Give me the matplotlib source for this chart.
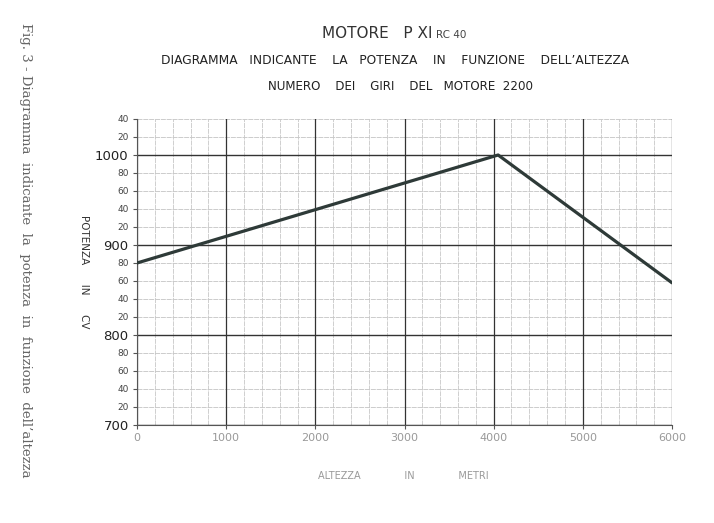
import numpy as np
import matplotlib
matplotlib.use('Agg')
from matplotlib import pyplot as plt
from matplotlib.ticker import MultipleLocator

# data
altezza = [0, 4050, 6000]
potenza = [880, 1000, 858]
xticks = [0, 1000, 2000, 3000, 4000, 5000, 6000]
yticks = list(range(700, 1041, 20))

W, H = 714, 523
fig = plt.figure(figsize=(W / 100, H / 100), dpi=100)
ax = fig.add_axes([137 / W, 1 - 425 / H, (672 - 137) / W, (425 - 119) / H])

ax.plot(altezza, potenza, color='#2e3a38', lw=2.3, solid_capstyle='round', zorder=5)

ax.set_xlim(0, 6000)
ax.set_ylim(700, 1040)
ax.set_xticks(xticks)
ax.xaxis.set_minor_locator(MultipleLocator(200))
ax.set_yticks(yticks)
ylab = []
for v in yticks:
    ylab.append(str(v) if v % 100 == 0 else str(v % 100))
ax.set_yticklabels(ylab)
for t, v in zip(ax.get_yticklabels(), yticks):
    if v % 100 == 0:
        t.set_fontsize(9.5)
        t.set_color('#222222')
    else:
        t.set_fontsize(6.5)
        t.set_color('#444444')
ax.set_xticklabels([str(v) for v in xticks], fontsize=8, color='#999999')

ax.grid(which='minor', axis='x', color='#c8c8c8', lw=0.6, ls=(0, (6, 1)), zorder=1)
for v in range(0, 6001, 1000):
    ax.axvline(v, color='#333333', lw=0.9, zorder=2)
for v in yticks:
    if v % 100 == 0:
        ax.axhline(v, color='#333333', lw=1.0, zorder=2)
    else:
        ax.axhline(v, color='#c4c4c4', lw=0.6, ls=(0, (6, 1)), zorder=1)

for s in ['top', 'right']:
    ax.spines[s].set_visible(False)
ax.spines['left'].set_color('#555555')
ax.spines['bottom'].set_color('#555555')
ax.tick_params(axis='both', which='both', length=3, color='#555555', pad=3)
ax.tick_params(axis='x', which='minor', length=0)

# titles
fig.text(433 / W, 1 - 33 / H, 'MOTORE   P XI', fontsize=11, color='#333333',
         ha='right', va='center')
fig.text(436 / W, 1 - 35 / H, 'RC 40', fontsize=7.5, color='#444444',
         ha='left', va='center')
fig.text(395 / W, 1 - 60 / H,
         'DIAGRAMMA   INDICANTE    LA   POTENZA    IN    FUNZIONE    DELL\u2019ALTEZZA',
         fontsize=8.8, color='#222222', ha='center', va='center')
fig.text(400 / W, 1 - 86 / H, 'NUMERO    DEI    GIRI    DEL   MOTORE  2200',
         fontsize=8.6, color='#222222', ha='center', va='center')

fig.text(84 / W, 1 - 272 / H, 'POTENZA      IN      CV', fontsize=7.5,
         color='#333333', rotation=270, ha='center', va='center')
fig.text(403 / W, 1 - 476 / H, 'ALTEZZA              IN              METRI', fontsize=7,
         color='#999999', ha='center', va='center')
fig.text(25 / W, 1 - 250 / H,
         "Fig. 3 - Diagramma  indicante  la  potenza  in  funzione  dell\u2019altezza",
         fontsize=9.5, family='DejaVu Serif', color='#666666', rotation=270,
         ha='center', va='center')

fig.savefig('out.png', dpi=100)
